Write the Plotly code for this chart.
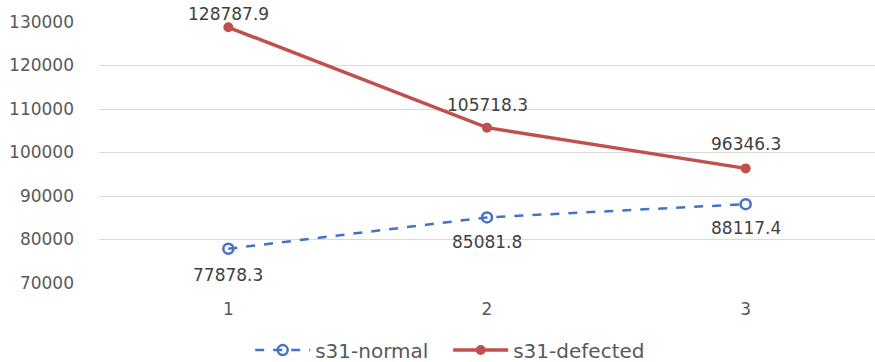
import plotly.graph_objects as go

categories = [1, 2, 3]
normal_values = [77878.3, 85081.8, 88117.4]
defected_values = [128787.9, 105718.3, 96346.3]
y_ticks = [70000, 80000, 90000, 100000, 110000, 120000, 130000]

font_family = "DejaVu Sans, sans-serif"
label_color = "#404040"

fig = go.Figure()

fig.add_trace(go.Scatter(
    x=categories, y=normal_values, name="s31-normal",
    mode="lines+markers",
    line=dict(color="#4472C4", width=2.5, dash="dash"),
    marker=dict(symbol="circle-open", size=10, color="#4472C4", line=dict(width=2.5)),
    cliponaxis=False,
))

fig.add_trace(go.Scatter(
    x=categories, y=defected_values, name="s31-defected",
    mode="lines+markers",
    line=dict(color="#C0504D", width=3.5),
    marker=dict(symbol="circle", size=10, color="#C0504D"),
    cliponaxis=False,
))

# data labels: blue below the points, red above (first red one sits on the top gridline)
red_shift = [13, 23, 24]
blue_shift = [-26, -25, -24]
for x, y, s in zip(categories, defected_values, red_shift):
    fig.add_annotation(x=x, y=y, text=f"{y:.1f}", showarrow=False, yshift=s,
                       font=dict(size=17, color=label_color, family=font_family))
for x, y, s in zip(categories, normal_values, blue_shift):
    fig.add_annotation(x=x, y=y, text=f"{y:.1f}", showarrow=False, yshift=s,
                       font=dict(size=17, color=label_color, family=font_family))

fig.update_layout(
    width=875, height=362,
    margin=dict(l=99, r=0, t=22, b=79),
    paper_bgcolor="white", plot_bgcolor="white",
    font=dict(family=font_family, size=17, color="#595959"),
    showlegend=True,
    legend=dict(orientation="h", x=0.45, xanchor="center",
                yref="container", y=0.033, yanchor="middle",
                itemwidth=55, entrywidth=128, entrywidthmode="pixels",
                font=dict(size=20, color="#595959")),
    xaxis=dict(range=[0.5, 3.5], tickvals=categories, ticktext=[str(c) for c in categories],
               showgrid=False, zeroline=False, showline=False, ticks="",
               ticklabelstandoff=14, automargin=False),
    yaxis=dict(range=[70000, 130000], tickvals=y_ticks, ticktext=[str(t) for t in y_ticks],
               showgrid=True, gridcolor="#d9d9d9", gridwidth=1, zeroline=False,
               showline=False, ticks="", ticklabelstandoff=24, automargin=False),
)

# the page body has a default 8px margin; drop it so the figure fills the window
fig.write_html("out.html", config={"displayModeBar": False},
               post_script="document.body.style.margin='0';")
